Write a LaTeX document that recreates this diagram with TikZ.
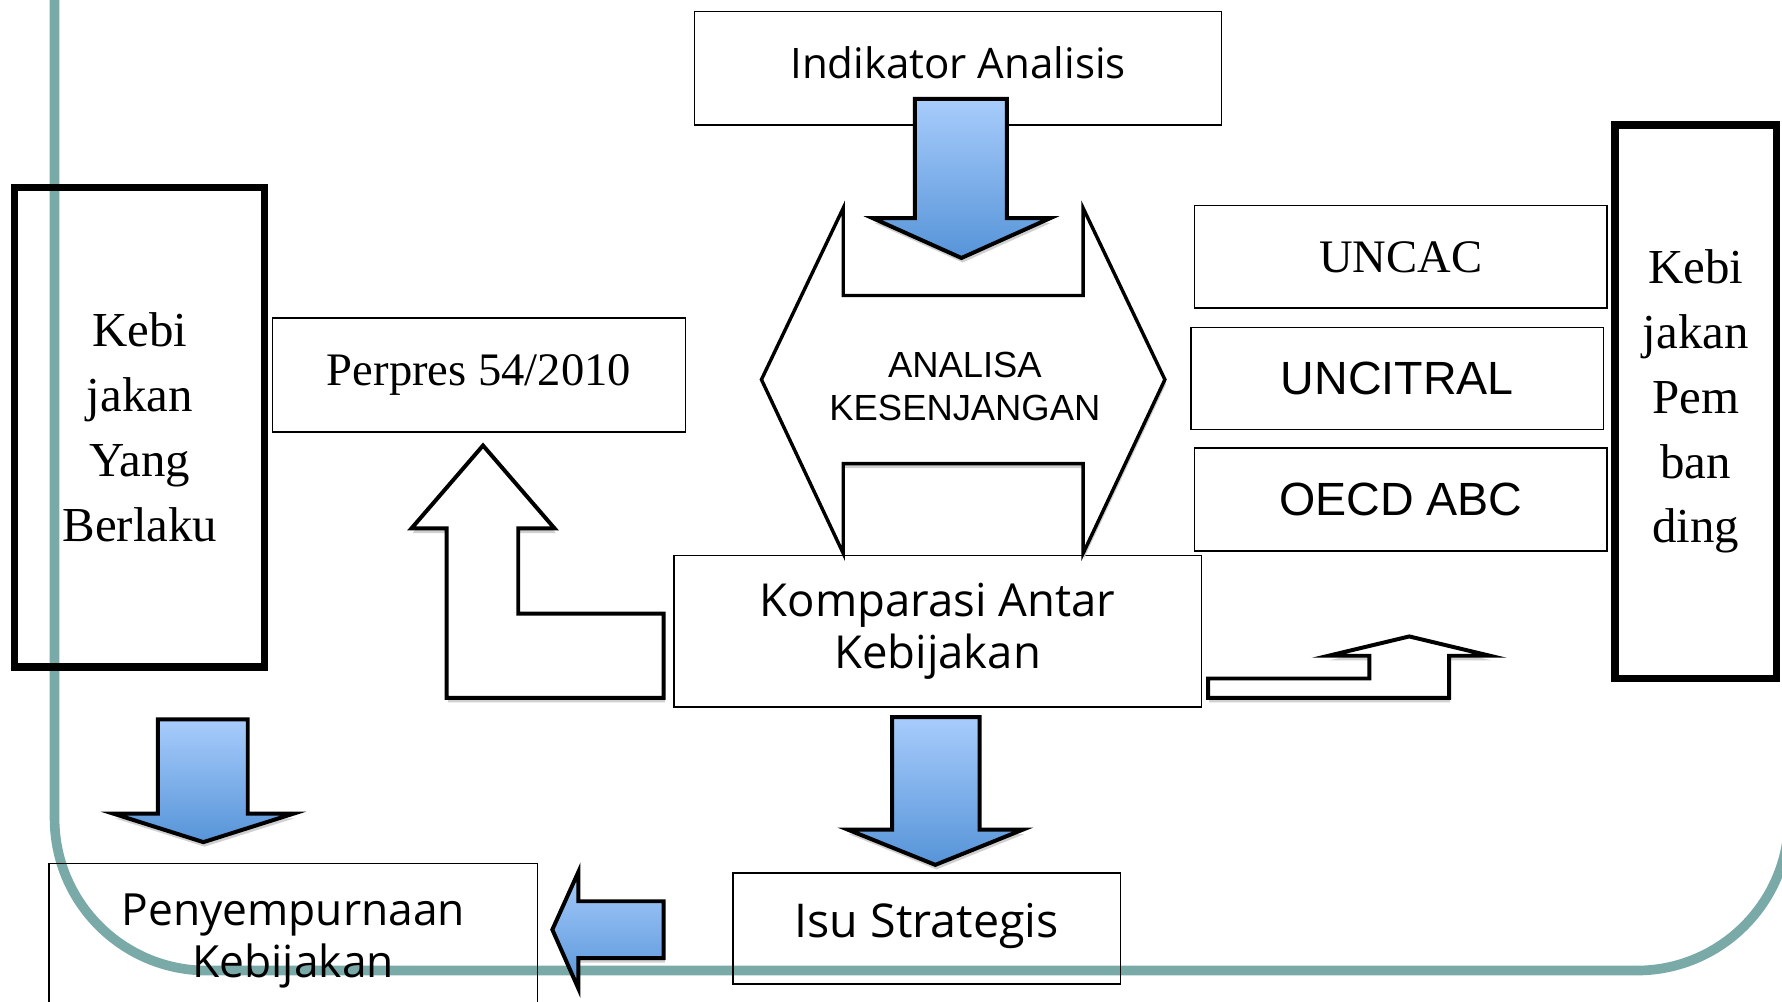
\documentclass[tikz,border=0pt]{standalone}
\usepackage{fontspec}
\setmainfont{Liberation Serif}
\newfontfamily\osans{Open Sans}
\newfontfamily\asans{Liberation Sans}
\definecolor{tealc}{RGB}{121,170,168}
\definecolor{bluetop}{RGB}{168,204,252}
\definecolor{bluebot}{RGB}{86,148,216}
\definecolor{shadowc}{RGB}{208,208,208}
\newcommand\hexshape[1]{\path[#1] (742,183) -- (742,260) -- (953,260) -- (953,183) -- (1025,334) -- (953,487) -- (953,408) -- (742,408) -- (742,487) -- (670,334) -- cycle;}
% #1 opts, #2 shaft left, #3 shaft right, #4 top, #5 head y, #6 head left, #7 head right, #8 tip y
\newcommand\blueDown[8]{\path[#1] (#2,#4) -- (#3,#4) -- (#3,#5) -- (#7,#5) -- ({(#6+#7)/2},#8) -- (#6,#5) -- (#2,#5) -- cycle;}
\newcommand\leftBlue[1]{\path[#1] (584,793) -- (509,793) -- (509,767) -- (486,818) -- (509,870) -- (509,843) -- (584,843) -- cycle;}
\newcommand\bentLeft[1]{\path[#1] (584,540) -- (456,540) -- (456,465) -- (488,465) -- (425,392) -- (362,465) -- (393,465) -- (393,614) -- (584,614) -- cycle;}
\newcommand\bentRight[1]{\path[#1] (1063,597) -- (1205,597) -- (1205,577) -- (1169,577) -- (1240,560) -- (1311,577) -- (1275,577) -- (1275,614) -- (1063,614) -- cycle;}
\begin{document}
\begin{tikzpicture}[x=1pt,y=-1pt,
  box/.style={draw=black, line width=1.3pt, inner sep=0pt, align=center},
  thickbox/.style={draw=black, line width=6.5pt, inner sep=0pt, align=center,
    font=\fontsize{43}{57}\selectfont},
  opensans/.style={font=\osans\fontsize{#1}{45}\selectfont},
  serifbig/.style={font=\fontsize{41}{49}\selectfont},
  arialbig/.style={font=\asans\fontsize{41}{49}\selectfont},
  bluearrow/.style={draw=black, line width=3.5pt, line join=miter, top color=bluetop, bottom color=bluebot},
  whitearrow/.style={draw=black, line width=3.5pt, line join=miter, fill=white},
  shadow/.style={fill=shadowc, draw=none, shift={(1,4)}}
]
\useasboundingbox (0,0) rectangle (1568,881);
\begin{scope}
\clip (0,0) rectangle (1568,881);
\fill[white] (0,0) rectangle (1568,881);
% teal frame
\draw[tealc, line width=8.5pt, rounded corners=134pt] (48,-400) rectangle (1574,854);

% boxes
\node[box, opensans=37, minimum width=464, minimum height=100] (ind) at (843,60) {\raisebox{-9pt}[0pt][0pt]{Indikator Analisis}};
\node[box, serifbig, minimum width=363, minimum height=100] (perpres) at (421.5,330) {Perpres 54/2010};
\node[thickbox, minimum width=220, minimum height=422] (berlaku) at (123,376) {Kebi\\jakan\\Yang\\Berlaku};
\node[thickbox, minimum width=142, minimum height=487] (banding) at (1492,353.5) {Kebi\\jakan\\Pem\\ban\\ding};
\node[box, serifbig, minimum width=363, minimum height=90] (uncac) at (1232.5,226) {UNCAC};
\node[box, arialbig, minimum width=363, minimum height=90] (uncitral) at (1229.5,333) {UNCITRAL};
\node[box, arialbig, minimum width=363, minimum height=91] (oecd) at (1232.5,439.5) {OECD ABC};
\node[box, opensans=40, minimum width=464, minimum height=133] (komp) at (825,555.5) {Komparasi Antar\\Kebijakan};
\node[box, opensans=41, minimum width=341, minimum height=98] (isu) at (815.5,817) {\raisebox{-7.5pt}[0pt][0pt]{Isu Strategis}};
\node[box, opensans=39, minimum width=430, minimum height=136] (penyem) at (258,828) {Penyempurnaan\\Kebijakan};

% analisa kesenjangan double arrow
\hexshape{shadow}
\hexshape{whitearrow, line width=3pt}
\node[font=\asans\fontsize{32}{38}\selectfont, align=center, inner sep=0pt] (gap) at (849,340) {ANALISA\\KESENJANGAN};

% white bent arrows
\bentLeft{shadow}
\bentLeft{whitearrow}
\bentRight{shadow}
\bentRight{whitearrow}

% blue arrows
\blueDown{shadow}{805}{886}{87}{192}{768}{924}{227}
\blueDown{bluearrow}{805}{886}{87}{192}{768}{924}{227}
\blueDown{shadow}{139}{218}{633}{716}{100}{258}{741}
\blueDown{bluearrow}{139}{218}{633}{716}{100}{258}{741}
\blueDown{shadow}{785}{862}{631}{730}{746}{900}{761}
\blueDown{bluearrow}{785}{862}{631}{730}{746}{900}{761}
\leftBlue{shadow}
\leftBlue{bluearrow}
\end{scope}
\end{tikzpicture}
\end{document}
